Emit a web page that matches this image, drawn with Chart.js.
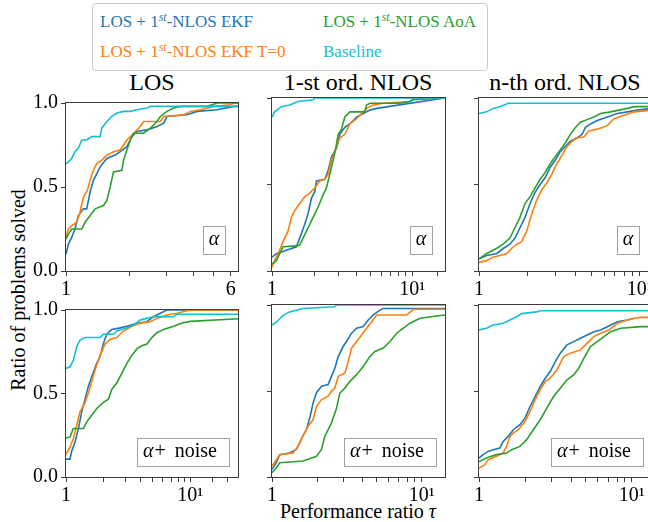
<!DOCTYPE html>
<html>
<head>
<meta charset="utf-8">
<script src="https://cdn.jsdelivr.net/npm/chart.js@4.4.1/dist/chart.umd.min.js"></script>
<style>
  html, body { margin: 0; padding: 0; background: #fff; overflow: hidden; }
  body { width: 648px; height: 522px; position: relative; font-family: "Liberation Serif", "Times New Roman", serif; }
  canvas { position: absolute; }
  .txt { position: absolute; white-space: nowrap; color: #000; line-height: 1; }
  #legend { position: absolute; left: 92px; top: 3px; width: 394px; height: 66px; border: 1px solid #cccccc; border-radius: 4px; background: rgba(255,255,255,0.8); }
  #legend .item { position: absolute; font-size: 17px; line-height: 1; white-space: nowrap; }
  #legend sup { font-size: 70%; font-style: italic; vertical-align: 0.5em; line-height: 0; }
  .title { font-size: 24px; transform: translateX(-50%); }
</style>
</head>
<body>

<div id="legend">
  <div class="item" style="left:7px; top:9px; color:#1f77b4">LOS + 1<sup>st</sup>-NLOS EKF</div>
  <div class="item" style="left:7px; top:39px; color:#ff7f0e">LOS + 1<sup>st</sup>-NLOS EKF T=0</div>
  <div class="item" style="left:230px; top:9px; color:#2ca02c">LOS + 1<sup>st</sup>-NLOS AoA</div>
  <div class="item" style="left:230px; top:39px; color:#17becf">Baseline</div>
</div>

<div class="txt title" style="left:152px; top:70px">LOS</div>
<div class="txt title" style="left:358px; top:70px">1-st ord. NLOS</div>
<div class="txt title" style="left:565px; top:70px">n-th ord. NLOS</div>
<div class="txt" style="left:18px; top:290px; font-size:20px; transform:translate(-50%,-50%) rotate(-90deg)">Ratio of problems solved</div>
<div class="txt" style="left:358px; top:501px; font-size:20px; transform:translateX(-50%)">Performance ratio <i>τ</i></div>

<script>
// colours (tab10)
const colEkf = '#1f77b4';
const colEkfT0 = '#ff7f0e';
const colAoa = '#2ca02c';
const colBase = '#17becf';

const yTicks = [0, 0.5, 1];

// ---- row 1: alpha ----  [tau, ratio]
// LOS
const losEkf = [[1,0.10],[1.026,0.16],[1.064,0.20],[1.103,0.25],[1.144,0.33],[1.208,0.37],[1.253,0.37],[1.30,0.47],[1.348,0.54],[1.398,0.58],[1.45,0.62],[1.559,0.67],[1.708,0.69],[1.804,0.71],[1.94,0.74],[2.049,0.80],[2.164,0.83],[2.414,0.84],[2.692,0.86],[2.895,0.88],[3.003,0.92],[3.736,0.93],[4.168,0.95],[5.185,0.96],[6.221,0.98],[6.5,0.98]];
const losEkfT0 = [[1,0.20],[1.026,0.25],[1.064,0.27],[1.124,0.29],[1.165,0.35],[1.208,0.44],[1.262,0.48],[1.30,0.54],[1.348,0.60],[1.398,0.64],[1.476,0.66],[1.559,0.69],[1.677,0.71],[1.804,0.72],[1.871,0.75],[1.94,0.78],[2.087,0.82],[2.244,0.86],[2.327,0.89],[2.792,0.89],[2.895,0.92],[3.603,0.93],[3.874,0.95],[4.322,0.96],[5.001,0.98],[5.998,0.99],[6.221,1.0],[6.5,1.0]];
const losAoa = [[1,0.19],[1.026,0.22],[1.064,0.25],[1.187,0.25],[1.231,0.29],[1.30,0.33],[1.373,0.37],[1.503,0.39],[1.559,0.42],[1.617,0.50],[1.677,0.59],[1.837,0.60],[1.871,0.66],[1.94,0.72],[2.012,0.78],[2.087,0.82],[2.327,0.82],[2.503,0.85],[2.692,0.89],[2.792,0.92],[3.003,0.95],[3.23,0.97],[3.474,0.98],[4.649,0.98],[5.185,1.0],[6.5,1.0]];
const losBase = [[1,0.64],[1.026,0.65],[1.064,0.67],[1.103,0.71],[1.144,0.73],[1.187,0.78],[1.253,0.78],[1.323,0.80],[1.45,0.80],[1.476,0.85],[1.559,0.89],[1.646,0.92],[1.739,0.94],[1.871,0.95],[2.012,0.95],[2.164,0.96],[2.414,0.97],[2.503,0.98],[6.5,0.98]];
// 1-st order NLOS
const nlos1Ekf = [[1,0.08],[1.074,0.10],[1.166,0.11],[1.492,0.14],[1.576,0.19],[1.711,0.27],[1.807,0.33],[1.91,0.42],[2.018,0.46],[2.074,0.52],[2.378,0.53],[2.512,0.58],[2.653,0.66],[2.881,0.71],[3.043,0.79],[3.304,0.83],[3.588,0.85],[4.003,0.89],[4.467,0.91],[4.985,0.93],[5.564,0.94],[17.1,1.0]];
const nlos1EkfT0 = [[1,0.02],[1.045,0.06],[1.104,0.10],[1.198,0.17],[1.301,0.23],[1.374,0.31],[1.452,0.35],[1.576,0.39],[1.711,0.43],[1.858,0.45],[2.018,0.48],[2.19,0.52],[2.378,0.53],[2.512,0.56],[2.653,0.64],[2.803,0.69],[3.043,0.77],[3.304,0.79],[3.588,0.85],[4.003,0.88],[4.467,0.92],[4.719,0.94],[5.267,0.96],[6.208,0.97],[9.623,0.98],[10.16,1.0],[17.1,1.0]];
const nlos1Aoa = [[1,0.04],[1.074,0.06],[1.134,0.10],[1.198,0.14],[1.492,0.145],[1.576,0.15],[1.665,0.19],[1.807,0.25],[1.963,0.31],[2.131,0.37],[2.314,0.44],[2.444,0.48],[2.582,0.56],[2.727,0.64],[2.85,0.71],[2.961,0.79],[3.128,0.82],[3.304,0.89],[3.588,0.92],[4.591,0.92],[4.719,0.96],[4.985,0.97],[8.166,0.97],[9.623,0.98],[10.16,0.99],[17.1,1.0]];
const nlos1Base = [[1,0.89],[1.045,0.92],[1.166,0.95],[1.337,0.96],[1.533,0.98],[1.963,0.99],[2.018,1.0],[17.1,1.0]];
// n-th order NLOS
const nlosNEkf = [[1,0.07],[1.111,0.09],[1.284,0.10],[1.413,0.13],[1.556,0.155],[1.673,0.19],[1.798,0.25],[1.932,0.31],[2.077,0.39],[2.232,0.455],[2.399,0.50],[2.578,0.54],[2.771,0.60],[2.978,0.64],[3.2,0.69],[3.44,0.72],[3.698,0.75],[4.071,0.77],[4.376,0.79],[4.59,0.83],[4.933,0.85],[5.432,0.87],[6.274,0.89],[7.246,0.91],[8.372,0.92],[9.67,0.93],[11.9,0.94]];
const nlosNEkfT0 = [[1,0.05],[1.111,0.06],[1.224,0.08],[1.483,0.10],[1.594,0.13],[1.713,0.155],[1.841,0.17],[1.979,0.23],[2.127,0.33],[2.286,0.41],[2.457,0.47],[2.641,0.51],[2.838,0.56],[3.05,0.62],[3.28,0.67],[3.524,0.72],[3.787,0.75],[4.071,0.77],[4.482,0.775],[4.816,0.81],[5.432,0.82],[6.274,0.84],[6.908,0.88],[7.978,0.90],[9.216,0.92],[11.9,0.93]];
const nlosNAoa = [[1,0.07],[1.111,0.10],[1.284,0.13],[1.413,0.155],[1.556,0.19],[1.673,0.25],[1.798,0.31],[1.932,0.39],[2.077,0.43],[2.232,0.48],[2.399,0.53],[2.578,0.57],[2.771,0.62],[2.978,0.66],[3.2,0.70],[3.44,0.74],[3.698,0.79],[3.974,0.83],[4.272,0.86],[4.702,0.875],[5.176,0.89],[5.698,0.91],[6.583,0.92],[8.372,0.94],[9.216,0.95],[11.9,0.95]];
const nlosNBase = [[1,0.91],[1.111,0.92],[1.224,0.94],[1.347,0.95],[1.483,0.965],[1.519,0.97],[11.9,0.97]];

// ---- row 2: alpha + noise ----
const losNoiseEkf = [[1,0.107],[1.077,0.107],[1.111,0.155],[1.182,0.21],[1.258,0.29],[1.338,0.39],[1.423,0.466],[1.514,0.544],[1.611,0.60],[1.767,0.68],[1.879,0.72],[2.0,0.80],[2.128,0.855],[2.335,0.884],[2.726,0.893],[3.086,0.903],[3.715,0.92],[4.473,0.93],[5.062,0.96],[5.73,0.98],[6.486,1.0],[24.2,1.0]];
const losNoiseEkfT0 = [[1,0.136],[1.077,0.18],[1.146,0.23],[1.219,0.31],[1.297,0.39],[1.423,0.447],[1.514,0.505],[1.611,0.573],[1.713,0.64],[1.879,0.73],[2.063,0.796],[2.264,0.825],[2.562,0.835],[2.9,0.874],[3.386,0.903],[3.953,0.92],[4.759,0.93],[5.386,0.95],[6.486,0.97],[7.808,0.98],[10.0,1.0],[24.2,1.0]];
const losNoiseAoa = [[1,0.233],[1.077,0.24],[1.146,0.29],[1.38,0.29],[1.468,0.33],[1.611,0.37],[1.767,0.41],[2.0,0.447],[2.195,0.466],[2.335,0.524],[2.562,0.563],[2.812,0.62],[3.086,0.68],[3.386,0.728],[3.715,0.767],[4.077,0.786],[4.473,0.796],[4.908,0.835],[5.386,0.864],[6.096,0.884],[7.339,0.903],[8.567,0.922],[10.0,0.932],[24.2,0.948]];
const losNoiseBase = [[1,0.65],[1.077,0.66],[1.146,0.70],[1.219,0.78],[1.297,0.82],[1.423,0.835],[1.879,0.835],[2.0,0.855],[2.409,0.855],[2.562,0.874],[3.086,0.893],[3.491,0.91],[3.953,0.94],[4.473,0.95],[5.062,0.96],[7.339,0.96],[7.808,0.975],[24.2,0.975]];

const nlos1NoiseEkf = [[1,0.044],[1.069,0.083],[1.126,0.13],[1.313,0.14],[1.455,0.16],[1.532,0.20],[1.613,0.24],[1.698,0.276],[1.788,0.344],[1.882,0.43],[1.981,0.49],[2.14,0.528],[2.371,0.537],[2.496,0.585],[2.628,0.633],[2.767,0.70],[2.989,0.76],[3.147,0.788],[3.399,0.836],[3.67,0.865],[4.068,0.875],[4.395,0.913],[4.747,0.942],[5.26,0.97],[5.537,0.98],[14.3,0.98]];
const nlos1NoiseEkfT0 = [[1,0.064],[1.069,0.10],[1.126,0.13],[1.382,0.14],[1.493,0.18],[1.613,0.24],[1.742,0.295],[1.882,0.334],[1.981,0.41],[2.14,0.45],[2.371,0.47],[2.496,0.498],[2.628,0.517],[2.767,0.585],[3.067,0.604],[3.23,0.672],[3.399,0.749],[3.67,0.788],[3.965,0.826],[4.282,0.865],[4.627,0.903],[4.997,0.942],[7.937,0.942],[8.796,0.975],[14.3,0.975]];
const nlos1NoiseAoa = [[1,0.025],[1.069,0.054],[1.126,0.083],[1.613,0.093],[1.981,0.12],[2.14,0.16],[2.253,0.237],[2.496,0.315],[2.697,0.40],[2.839,0.488],[3.067,0.517],[3.313,0.556],[3.67,0.595],[4.068,0.643],[4.509,0.70],[4.871,0.73],[5.537,0.75],[6.138,0.788],[6.801,0.836],[7.54,0.865],[8.356,0.894],[9.746,0.923],[12.6,0.936],[14.3,0.942]];
const nlos1NoiseBase = [[1,0.884],[1.069,0.90],[1.126,0.92],[1.185,0.94],[1.313,0.96],[1.613,0.98],[2.628,0.99],[2.697,1.0],[14.3,1.0]];

const nlosNNoiseEkf = [[1,0.11],[1.063,0.13],[1.146,0.149],[1.237,0.159],[1.369,0.168],[1.439,0.207],[1.553,0.236],[1.676,0.275],[1.854,0.304],[2.0,0.342],[2.158,0.41],[2.328,0.468],[2.512,0.526],[2.71,0.574],[2.924,0.613],[3.154,0.671],[3.403,0.72],[3.765,0.768],[4.167,0.787],[4.61,0.807],[5.102,0.826],[5.646,0.845],[6.246,0.855],[6.912,0.874],[8.044,0.903],[9.363,0.913],[10.36,0.923]];
const nlosNNoiseEkfT0 = [[1,0.052],[1.09,0.07],[1.146,0.10],[1.301,0.12],[1.439,0.14],[1.514,0.178],[1.593,0.236],[1.676,0.255],[1.807,0.275],[2.0,0.323],[2.158,0.381],[2.328,0.449],[2.512,0.507],[2.71,0.555],[2.924,0.574],[3.236,0.623],[3.58,0.70],[3.961,0.72],[4.61,0.739],[5.102,0.778],[5.646,0.816],[6.246,0.836],[7.088,0.855],[8.044,0.894],[9.363,0.913],[10.36,0.923],[11.47,0.928],[13.55,0.928]];
const nlosNNoiseAoa = [[1,0.09],[1.118,0.11],[1.301,0.13],[1.514,0.139],[1.634,0.159],[1.854,0.178],[2.051,0.217],[2.27,0.275],[2.512,0.333],[2.78,0.40],[3.075,0.468],[3.403,0.516],[3.765,0.565],[4.167,0.594],[4.494,0.632],[4.85,0.69],[5.367,0.758],[5.938,0.787],[6.571,0.816],[7.27,0.845],[8.462,0.865],[11.47,0.874],[13.55,0.874]];
const nlosNNoiseBase = [[1,0.855],[1.118,0.865],[1.237,0.884],[1.439,0.894],[1.593,0.913],[1.763,0.932],[1.901,0.95],[2.388,0.96],[2.512,0.967],[13.55,0.967]];

// x-axis ranges and labelled ticks
const xMaxTop = [6.5, 17.1, 11.9];
const xMaxBottom = [24.2, 14.3, 13.55];
const tickLabelsLos = { 1: '1', 6: '6' };
const tickLabelsLog = { 1: '1', 10: '10¹' };

// panel placement (chart area in page pixels)
const colLeft = [66, 272, 479];
const colWidth = [172, 173, 173];
const rowTop = [98, 305];
const rowHeight = [173, 172];
const ml = 60, mt = 10, mr = 10, mb = 32;
const serif = '"Liberation Serif", "Times New Roman", serif';

// frame around each axes
const framePlugin = {
  id: 'frame',
  afterDatasetsDraw(chart) {
    const a = chart.chartArea;
    const ctx = chart.ctx;
    ctx.save();
    ctx.strokeStyle = '#3c3c3c';
    ctx.lineWidth = 1;
    ctx.strokeRect(a.left - 0.5, a.top - 0.5, a.right - a.left + 1, a.bottom - a.top + 1);
    ctx.restore();
  }
};

// the small boxed "α" / "α+ noise" tag
const tagPlugin = {
  id: 'tag',
  afterDraw(chart, args, opts) {
    const a = chart.chartArea;
    const ctx = chart.ctx;
    const x = a.right - opts.right - opts.w;
    const y = a.bottom - opts.bottom - opts.h;
    ctx.save();
    ctx.fillStyle = 'rgba(255,255,255,0.9)';
    ctx.fillRect(x, y, opts.w, opts.h);
    ctx.strokeStyle = '#a0a0a0';
    ctx.lineWidth = 1;
    ctx.strokeRect(x + 0.5, y + 0.5, opts.w, opts.h);
    ctx.fillStyle = '#000';
    ctx.textBaseline = 'alphabetic';
    const base = y + 19;
    if (opts.noise) {
      ctx.font = 'italic 20px ' + serif;
      let cx = x + 6;
      ctx.fillText('α', cx, base);
      cx += ctx.measureText('α').width + 1;
      ctx.font = '20px ' + serif;
      ctx.fillText('+', cx, base);
      cx += ctx.measureText('+').width + 9;
      ctx.fillText('noise', cx, base);
    } else {
      ctx.font = 'italic 20px ' + serif;
      ctx.textAlign = 'center';
      ctx.fillText('α', x + opts.w / 2, base);
    }
    ctx.restore();
  }
};

function makePanel(row, col, series, xMax, tickLabels) {
  const L = colLeft[col], T = rowTop[row], W = colWidth[col], H = rowHeight[row];
  const canvas = document.createElement('canvas');
  canvas.width = W + ml + mr;
  canvas.height = H + mt + mb;
  canvas.style.left = (L - ml) + 'px';
  canvas.style.top = (T - mt) + 'px';
  document.body.appendChild(canvas);

  const colours = [colEkf, colEkfT0, colAoa, colBase];
  // later series drawn on top, like the original
  const datasets = series.map((s, i) => ({
    data: s.map(p => ({ x: p[0], y: p[1] })),
    borderColor: colours[i],
    borderWidth: 1.6,
    pointRadius: 0,
    fill: false,
    tension: 0,
    order: series.length - i
  }));

  const tag = row === 0
    ? { w: 22, h: 28, right: 13, bottom: 17, noise: false }
    : { w: 92, h: 28, right: 9, bottom: 11, noise: true };

  new Chart(canvas, {
    type: 'line',
    data: { datasets },
    options: {
      responsive: false,
      animation: false,
      events: [],
      layout: { padding: { top: mt, right: mr, left: 0, bottom: 0 } },
      plugins: { legend: { display: false }, tooltip: { enabled: false }, tag },
      scales: {
        x: {
          type: 'logarithmic',
          min: 1,
          max: xMax,
          border: { display: false },
          grid: {
            drawOnChartArea: false,
            tickLength: 5,
            tickColor: ctx => (ctx.tick && Number.isInteger(ctx.tick.value)) ? '#3c3c3c' : 'rgba(0,0,0,0)'
          },
          ticks: {
            autoSkip: false,
            maxRotation: 0,
            padding: 2,
            color: '#000',
            font: { family: serif, size: 20 },
            callback: v => tickLabels[v] || ''
          },
          afterFit: s => { s.height = mb; }
        },
        y: {
          min: 0,
          max: 1,
          border: { display: false },
          grid: { drawOnChartArea: false, tickLength: 5, color: '#3c3c3c' },
          afterBuildTicks: s => { s.ticks = yTicks.map(v => ({ value: v })); },
          ticks: {
            display: col === 0,
            padding: 3,
            color: '#000',
            font: { family: serif, size: 20 },
            callback: v => v.toFixed(1)
          },
          afterFit: s => { s.width = ml; }
        }
      }
    },
    plugins: [framePlugin, tagPlugin]
  });
}

makePanel(0, 0, [losEkf, losEkfT0, losAoa, losBase], xMaxTop[0], tickLabelsLos);
makePanel(0, 1, [nlos1Ekf, nlos1EkfT0, nlos1Aoa, nlos1Base], xMaxTop[1], tickLabelsLog);
makePanel(0, 2, [nlosNEkf, nlosNEkfT0, nlosNAoa, nlosNBase], xMaxTop[2], tickLabelsLog);
makePanel(1, 0, [losNoiseEkf, losNoiseEkfT0, losNoiseAoa, losNoiseBase], xMaxBottom[0], tickLabelsLog);
makePanel(1, 1, [nlos1NoiseEkf, nlos1NoiseEkfT0, nlos1NoiseAoa, nlos1NoiseBase], xMaxBottom[1], tickLabelsLog);
makePanel(1, 2, [nlosNNoiseEkf, nlosNNoiseEkfT0, nlosNNoiseAoa, nlosNNoiseBase], xMaxBottom[2], tickLabelsLog);
</script>
</body>
</html>
